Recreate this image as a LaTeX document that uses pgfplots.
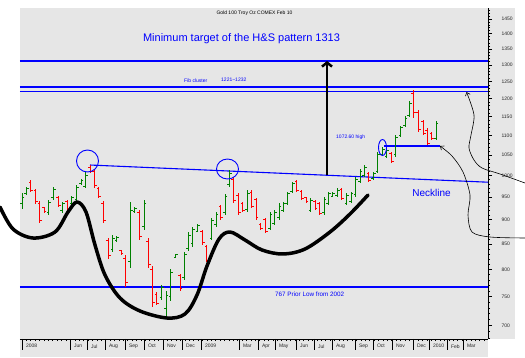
\documentclass[border=0pt]{standalone}
\usepackage{pgfplots}
\pgfplotsset{compat=1.18}
\usepackage{pgfplotstable}
\usepackage{fontspec}
\setmainfont{Liberation Sans}
\usetikzlibrary{arrows.meta}
\definecolor{bggray}{RGB}{230,230,230}
\definecolor{bgreen}{RGB}{0,128,0}
\definecolor{bred}{RGB}{255,0,0}
\definecolor{bblue}{RGB}{0,0,255}

\pgfplotstableread{
x o h l c
22.3 935 959 924 950
26.7 958 973 955 970
49 915 944 911 938
53.3 948 973 944 968
62.3 920 939 915 935
71.7 935 952 932 948
76.7 945 978 939 972
81 980 992 978 988
85.3 975 1008 971 1000
112.7 838 868 834 862
116.7 856 866 854 864
130.3 815 939 803 920
134.7 917 928 915 925
144 885 944 879 935
161.7 748 771 744 766
166 730 760 716 752
170.7 750 801 742 795
175.7 823 830 822 828
184.3 785 834 780 828
188.5 840 874 836 868
192.8 850 885 844 880
197.7 876 891 874 888
211.7 862 904 858 898
216 890 917 885 912
225 915 957 911 952
229.3 978 1013 973 1005
247.3 922 966 917 958
270 882 917 879 912
274.3 892 921 889 916
279 905 937 900 930
283.3 920 939 917 935
287.7 935 962 932 957
292.3 962 985 959 980
310.7 920 948 917 942
324 915 950 911 945
328.3 936 962 932 957
332.7 952 962 950 958
337.3 953 971 950 966
346.7 936 959 932 954
351 940 962 937 957
355.7 955 996 950 990
360 986 1016 982 1010
364.3 1000 1025 996 1018
373.3 992 1008 989 1004
377.7 1010 1057 1006 1050
382.3 1052 1070 1050 1064
386.7 1046 1067 1042 1062
395.7 1050 1101 1045 1095
400.7 1099 1125 1096 1120
405 1125 1152 1122 1146
409.3 1152 1193 1149 1185
436 1092 1138 1088 1132
}\greenbars

\pgfplotstableread{
x o h l c
31 984 989 962 966
36 964 969 935 940
40 935 941 893 898
44.3 926 928 915 917
58.3 948 952 928 932
67 940 944 917 921
90 1020 1025 1006 1010
94.3 1010 1016 971 976
98.7 970 973 948 952
103.3 935 941 893 898
108.3 856 862 820 826
121 836 838 828 830
125.3 822 828 767 775
139.3 915 921 858 865
148.3 855 862 803 810
152.3 800 807 732 740
156.7 754 758 735 738
180 788 792 760 765
202.3 875 879 848 852
206.7 844 848 814 818
220.7 928 932 900 904
233.3 990 996 937 942
238.3 954 959 911 915
242.7 936 939 917 920
251.7 960 966 926 930
256 944 948 900 905
260.7 891 893 879 882
265.3 900 904 872 876
296.7 985 989 962 966
301.7 963 966 944 947
306 948 950 937 939
315 941 944 921 924
319.3 935 939 911 914
341.7 968 971 944 947
368.7 1005 1008 985 988
391.3 1054 1057 1030 1034
413.3 1215 1225 1146 1160
418.3 1160 1168 1109 1115
423.3 1136 1141 1101 1105
427.3 1114 1119 1075 1080
431.7 1106 1109 1088 1092
}\redbars

\begin{document}
\begin{tikzpicture}[x=1pt,y=1pt]
\useasboundingbox (0,0) rectangle (525,357);
\fill[bggray] (20,18) rectangle (515,349);
\fill[bggray] (20,0) rectangle (488,18);
\begin{axis}[
  at={(20pt,18pt)}, anchor=south west,
  width=468pt, height=331pt, scale only axis,
  xmin=20, xmax=488, ymode=log, ymin=678.2, ymax=1488.4,
  axis x line*=bottom, axis y line*=right,
  axis line style={line width=0.8pt, -},
  clip=false,
  tick align=outside,
  major tick length=4pt, minor tick length=2.2pt,
  tick style={black, line width=0.6pt},
  tick label style={font=\fontsize{5}{6}\selectfont, text=black!85},
  xtick={22,70,87,105,125,144,163,182,201,239,258,275,296,314,332,355,373,392,413,429,447,463},
  xticklabels={2008,Jun,Jul,Aug,Sep,Oct,Nov,Dec,2009,Mar,Apr,May,Jun,Jul,Aug,Sep,Oct,Nov,Dec,2010,Feb,Mar},
  major x tick style={draw=none},
  minor xtick={22,26.4,...,486},
  xticklabel style={anchor=north west, xshift=0.5pt, yshift=2pt},
  ytick={700,750,800,850,900,950,1000,1050,1100,1150,1200,1250,1300,1350,1400,1450},
  yticklabels={700,750,800,850,900,950,1000,1050,1100,1150,1200,1250,1300,1350,1400,1450},
  minor ytick={680,690,710,720,730,740,760,770,780,790,810,820,830,840,860,870,880,890,910,920,930,940,960,970,980,990,1010,1020,1030,1040,1060,1070,1080,1090,1110,1120,1130,1140,1160,1170,1180,1190,1210,1220,1230,1240,1260,1270,1280,1290,1310,1320,1330,1340,1360,1370,1380,1390,1410,1420,1430,1440,1460,1470,1480},
  yticklabel style={anchor=west, xshift=6pt},
]
% horizontal levels
\addplot[draw=bblue, line width=2pt] coordinates {(20,1313) (488,1313)};
\addplot[draw=bblue, line width=1.5pt] coordinates {(20,1233) (488,1233)};
\addplot[draw=bblue, line width=1.5pt] coordinates {(20,1220) (488,1220)};
\addplot[draw=bblue, line width=2pt] coordinates {(20,767) (488,767)};
\addplot[draw=bblue, line width=1.1pt] coordinates {(90,1025) (488,984)};
\addplot[draw=bblue, line width=1.3pt] coordinates {(384,1072.6) (440,1072.6)};
% green bars
\addplot[only marks, mark=-, mark size=1.1pt, mark options={xshift=1.1pt, line width=0.9pt, bgreen},
  error bars/.cd, y dir=both, y explicit, error mark=none, error bar style={line width=1pt, bgreen}]
  table[x=x, y=c, y error plus expr=\thisrow{h}-\thisrow{c}, y error minus expr=\thisrow{c}-\thisrow{l}] {\greenbars};
\addplot[only marks, mark=-, mark size=1.1pt, mark options={xshift=-1.1pt, line width=0.9pt, bgreen}]
  table[x=x, y=o] {\greenbars};
% red bars
\addplot[only marks, mark=-, mark size=1.1pt, mark options={xshift=1.1pt, line width=0.9pt, bred},
  error bars/.cd, y dir=both, y explicit, error mark=none, error bar style={line width=1pt, bred}]
  table[x=x, y=c, y error plus expr=\thisrow{h}-\thisrow{c}, y error minus expr=\thisrow{c}-\thisrow{l}] {\redbars};
\addplot[only marks, mark=-, mark size=1.1pt, mark options={xshift=-1.1pt, line width=0.9pt, bred}]
  table[x=x, y=o] {\redbars};
% month separators
\pgfplotsinvokeforeach{22,70,87,105,125,144,163,182,201,239,258,275,296,314,332,355,373,392,413,429,447,463}{
  \draw[line width=0.6pt] (axis cs:#1,678.2) -- ([yshift=-11pt]axis cs:#1,678.2);
}
\end{axis}
\begin{scope}[shift={(0,357)}, yscale=-1]
  % head and shoulders sketch
  \draw[line width=3.5pt, line cap=round, line join=round] plot[smooth, tension=0.55] coordinates {(0,207) (13,229) (33,238) (55,232) (68,212) (77,202) (86,212) (95,245) (105,275) (120,298) (140,311) (167,318) (185,314) (197,295) (207,266) (219,239) (230,232) (245,240) (262,250) (283,254) (305,249) (330,232) (350,214) (368,195)};
  % circles
  \draw[bblue, line width=0.9pt] (87.5,161) ellipse [x radius=11, y radius=11];
  \draw[bblue, line width=0.9pt] (227.5,169) ellipse [x radius=11, y radius=10];
  \draw[bblue, line width=0.9pt] (382.5,147.5) ellipse [x radius=4, y radius=8];
  % target arrow
  \draw[line width=2.5pt, -{Straight Barb[length=4pt, width=10pt]}] (327,175) -- (327,61);
  % thin arrows
  \draw[line width=0.6pt, -{Straight Barb[length=3pt, width=5pt]}] plot[smooth] coordinates {(525,183) (500,174) (482,168) (474,160) (469,148) (471,135) (474,115) (466.5,92)};
  \draw[line width=0.6pt, -{Straight Barb[length=3pt, width=5pt]}] plot[smooth] coordinates {(525,238) (490,237) (472,232) (468,215) (470,195) (463,172) (452,156) (440,146)};
  % texts
  \node[font=\fontsize{5}{6}\selectfont] at (254.5,13.3) {Gold 100 Troy Oz COMEX Feb 10};
  \node[font=\fontsize{11}{13}\selectfont, text=bblue] at (241.5,39) {Minimum target of the H\&S pattern 1313};
  \node[font=\fontsize{5}{6}\selectfont, text=bblue, anchor=west, inner sep=0pt] at (184,81) {Fib cluster};
  \node[font=\fontsize{5}{6}\selectfont, text=bblue, anchor=west, inner sep=0pt] at (221,80) {1221\textasciitilde 1232};
  \node[font=\fontsize{5}{6}\selectfont, text=bblue, anchor=west, inner sep=0pt] at (336,137) {1072.60 high};
  \node[font=\fontsize{10}{12}\selectfont, text=bblue] at (431.5,193) {Neckline};
  \node[font=\fontsize{6.3}{7}\selectfont, text=bblue, anchor=west, inner sep=0pt] at (275,294) {767 Prior Low from 2002};
\end{scope}
\end{tikzpicture}
\end{document}
